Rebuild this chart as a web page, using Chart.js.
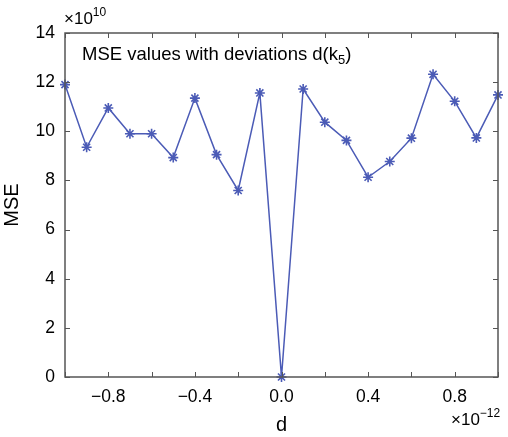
<!DOCTYPE html>
<html>
<head>
<meta charset="utf-8">
<script src="https://cdn.jsdelivr.net/npm/chart.js@4"></script>
<style>
  html, body { margin: 0; padding: 0; background: #fff; }
  #wrap { width: 508px; height: 437px; }
</style>
</head>
<body>
<div id="wrap"><canvas id="myChart" width="508" height="437"></canvas></div>
<script>
// deviation d (x 1e-12) and MSE (x 1e10)
const deviations = [-1.0, -0.9, -0.8, -0.7, -0.6, -0.5, -0.4, -0.3, -0.2, -0.1, 0.0,
                    0.1, 0.2, 0.3, 0.4, 0.5, 0.6, 0.7, 0.8, 0.9, 1.0];
const mseValues = [11.9, 9.35, 10.95, 9.9, 9.9, 8.93, 11.35, 9.05, 7.59, 11.56, 0.0,
                   11.72, 10.37, 9.63, 8.13, 8.77, 9.72, 12.32, 11.22, 9.73, 11.48];
const xTickLabels = ['\u22120.8', '\u22120.4', '0.0', '0.4', '0.8'];
const yTicks = [0, 2, 4, 6, 8, 10, 12, 14];

const FONT = 'Arial, "Liberation Sans", sans-serif';
const lineColor = '#4b5bb6';
const frameColor = '#555555';

// inward ticks on all four sides + box
const frameTicks = {
    id: 'frameTicks',
    afterDraw(chart) {
        const c = chart.ctx, a = chart.chartArea;
        const xs = chart.scales.x, ys = chart.scales.y;
        c.save();
        c.strokeStyle = frameColor;
        c.lineWidth = 1;
        c.beginPath();
        xs.ticks.forEach(t => {
            const px = Math.round(xs.getPixelForValue(t.value)) + 0.5;
            c.moveTo(px, a.bottom); c.lineTo(px, a.bottom - 5);
            c.moveTo(px, a.top); c.lineTo(px, a.top + 5);
        });
        ys.ticks.forEach(t => {
            const py = Math.round(ys.getPixelForValue(t.value)) + 0.5;
            c.moveTo(a.left, py); c.lineTo(a.left + 5, py);
            c.moveTo(a.right, py); c.lineTo(a.right - 5, py);
        });
        c.stroke();
        c.lineWidth = 1.5;
        c.strokeRect(a.left, a.top, a.right - a.left, a.bottom - a.top);
        c.restore();
    }
};

// exponent labels and the in-plot legend text
const annotations = {
    id: 'annotations',
    afterDraw(chart) {
        const c = chart.ctx, a = chart.chartArea;
        c.save();
        c.fillStyle = '#000';
        c.textBaseline = 'alphabetic';
        c.textAlign = 'left';

        // ×10^10 at top left
        c.font = '17px ' + FONT;
        c.fillText('\u00d710', a.left - 1, 24);
        let w = c.measureText('\u00d710').width;
        c.font = '12px ' + FONT;
        c.fillText('10', a.left - 1 + w, 16);

        // ×10^-12 at bottom right
        c.font = '17px ' + FONT;
        c.fillText('\u00d710', 451, 425);
        w = c.measureText('\u00d710').width;
        c.font = '12px ' + FONT;
        c.fillText('\u221212', 451 + w, 417);

        // legend text
        c.font = '18.5px ' + FONT;
        const txt = 'MSE values with deviations d(k';
        c.fillText(txt, a.left + 17, 60);
        let x = a.left + 17 + c.measureText(txt).width;
        c.font = '13px ' + FONT;
        c.fillText('5', x, 64);
        x += c.measureText('5').width;
        c.font = '18.5px ' + FONT;
        c.fillText(')', x, 60);
        c.restore();
    }
};

new Chart(document.getElementById('myChart'), {
    type: 'line',
    data: {
        datasets: [{
            label: 'MSE',
            data: deviations.map((d, i) => ({ x: d, y: mseValues[i] })),
            borderColor: lineColor,
            backgroundColor: lineColor,
            borderWidth: 1.5,
            pointStyle: 'star',
            pointRadius: 5,
            pointBorderWidth: 1.6,
            pointBorderColor: lineColor,
            tension: 0,
            clip: false
        }]
    },
    options: {
        responsive: false,
        animation: false,
        layout: { padding: { top: 33, right: 5, left: 0, bottom: 0 } },
        plugins: {
            legend: { display: false },
            tooltip: { enabled: false },
            title: { display: false }
        },
        scales: {
            x: {
                type: 'linear',
                min: -1,
                max: 1,
                afterFit(s) { s.height = 60; },
                afterBuildTicks(s) {
                    s.ticks = deviations.filter((d, i) => i % 2 === 0).map(v => ({ value: v }));
                },
                grid: { display: false, drawTicks: false },
                border: { display: false },
                ticks: {
                    color: '#000',
                    font: { family: FONT, size: 17.5 },
                    padding: 10,
                    maxRotation: 0,
                    autoSkip: false,
                    callback(v) {
                        const i = [-0.8, -0.4, 0, 0.4, 0.8].findIndex(t => Math.abs(t - v) < 1e-9);
                        return i >= 0 ? xTickLabels[i] : '';
                    }
                },
                title: {
                    display: true,
                    text: 'd',
                    color: '#000',
                    font: { family: FONT, size: 20 },
                    padding: { top: 0, bottom: 0 }
                }
            },
            y: {
                min: 0,
                max: 14,
                afterFit(s) { s.width = 65; },
                afterBuildTicks(s) {
                    s.ticks = yTicks.map(v => ({ value: v }));
                },
                grid: { display: false, drawTicks: false },
                border: { display: false },
                ticks: {
                    color: '#000',
                    font: { family: FONT, size: 17.5 },
                    padding: 10
                },
                title: {
                    display: true,
                    text: 'MSE',
                    color: '#000',
                    font: { family: FONT, size: 20 },
                    padding: { top: 0, bottom: 6 }
                }
            }
        }
    },
    plugins: [frameTicks, annotations]
});
</script>
</body>
</html>
